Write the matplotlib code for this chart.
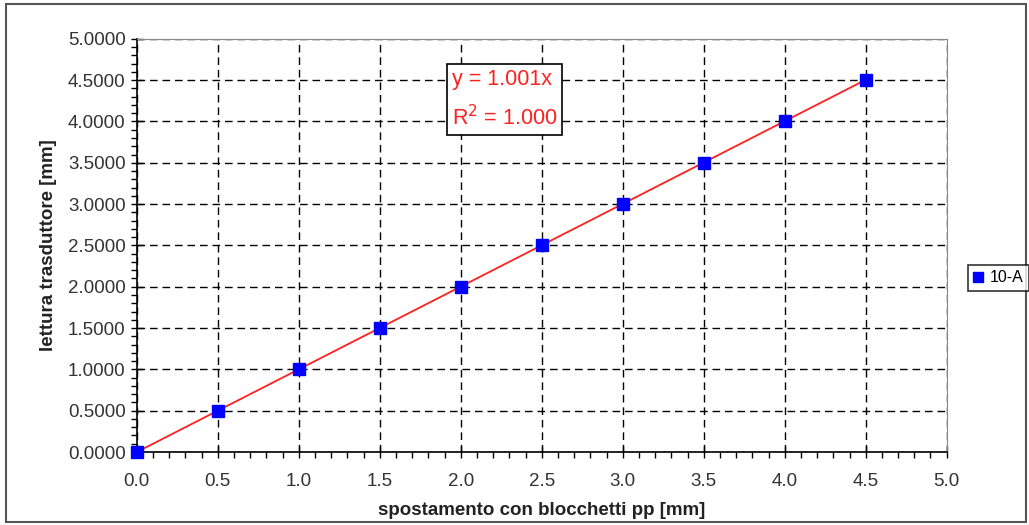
import matplotlib
matplotlib.use('Agg')
import matplotlib.pyplot as plt
import numpy as np
from matplotlib.ticker import MultipleLocator, FormatStrFormatter
from matplotlib.patches import Rectangle

plt.rcParams['font.family'] = ['Liberation Sans', 'DejaVu Sans']

# data
spostamento = [0.0, 0.5, 1.0, 1.5, 2.0, 2.5, 3.0, 3.5, 4.0, 4.5]
lettura = [0.0, 0.5, 1.0, 1.5, 2.0, 2.5, 3.0, 3.5, 4.0, 4.5]
slope = 1.001
series_name = '10-A'

fig = plt.figure(figsize=(10.29, 5.25), dpi=100)
fig.add_artist(Rectangle((0.006, 0.006), 0.991, 0.986, transform=fig.transFigure,
                         fill=False, edgecolor='#555555', linewidth=1.5))
ax = fig.add_axes([0.133, 0.139, 0.787, 0.787])

xs = np.array([min(spostamento), max(spostamento)])
ax.plot(xs, slope * xs, color='#ff2020', linewidth=1.3, zorder=3, clip_on=False)
ax.plot(spostamento, lettura, 's', color='#0000ff', markersize=8, zorder=4,
        label=series_name, linestyle='none', clip_on=False)

ax.set_xlim(0, 5)
ax.set_ylim(0, 5)
ax.xaxis.set_major_locator(MultipleLocator(0.5))
ax.xaxis.set_minor_locator(MultipleLocator(0.1))
ax.yaxis.set_major_locator(MultipleLocator(0.5))
ax.yaxis.set_minor_locator(MultipleLocator(0.1))
ax.xaxis.set_major_formatter(FormatStrFormatter('%.1f'))
ax.yaxis.set_major_formatter(FormatStrFormatter('%.4f'))
ax.tick_params(which='major', direction='inout', length=8, width=1, labelsize=13.5,
               colors='black', labelcolor='#333333')
ax.tick_params(axis='x', which='major', pad=11)
ax.tick_params(axis='y', which='major', pad=4)
ax.tick_params(which='minor', direction='out', length=4, width=1)

ax.grid(True, which='major', color='black', linestyle=(0, (5.5, 3.5)), linewidth=1)
for s in ['top', 'right']:
    ax.spines[s].set_color('#888888')
for s in ['left', 'bottom']:
    ax.spines[s].set_color('black')
    ax.spines[s].set_linewidth(1.2)

ax.set_xlabel('spostamento con blocchetti pp [mm]', fontsize=13.5, fontweight='bold',
              color='#222222', labelpad=9)
ax.set_ylabel('lettura trasduttore [mm]', fontsize=13.5, fontweight='bold',
              color='#222222', labelpad=8)

ax.text(0.389, 0.853, 'y = 1.001x\nR$^2$ = 1.000', transform=ax.transAxes,
        fontsize=15.5, color='#ff2020', ha='left', va='center', linespacing=1.75,
        zorder=5,
        bbox=dict(boxstyle='square,pad=0.22', facecolor='white', edgecolor='black',
                  linewidth=1.2))

leg = fig.legend(loc='center left', bbox_to_anchor=(0.933, 0.471), fontsize=11.5,
                 frameon=True, fancybox=False, edgecolor='black', handlelength=0.6,
                 handletextpad=0.4, borderpad=0.35, markerscale=0.85)
leg.get_frame().set_linewidth(1.2)

fig.savefig('out.png', dpi=100)
